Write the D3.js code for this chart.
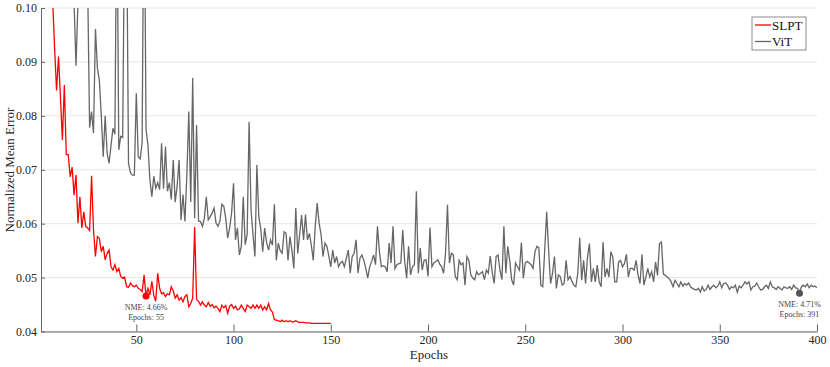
<!DOCTYPE html>
<html>
<head>
<meta charset="utf-8">
<script src="https://cdn.jsdelivr.net/npm/d3@7"></script>
<style>
body { margin: 0; background: #fff; }
text { font-family: "Liberation Serif", "Times New Roman", serif; }
</style>
</head>
<body>
<div class="chart"></div>
<script>
// NME per epoch (epoch = index + 1)
var vitNme = [
  0.180,0.175,0.170,0.165,0.160,0.155,0.150,0.145,0.140,0.135,
  0.130,0.125,0.120,0.115,0.112,0.108,0.104,0.101,0.0893,0.101,
  0.118,0.125,0.118,0.112,0.104,0.0778,0.0808,0.0768,0.0961,0.0889,
  0.0866,0.0800,0.0724,0.0800,0.0731,0.0712,0.0745,0.0777,0.0766,0.123,
  0.0737,0.0762,0.0760,0.118,0.118,0.0712,0.0694,0.0690,0.0690,0.0842,
  0.0724,0.0720,0.0750,0.130,0.0775,0.0745,0.0681,0.0650,0.0688,0.0666,
  0.0676,0.0663,0.0749,0.0665,0.0743,0.0660,0.0676,0.0645,0.0718,0.0640,
  0.0670,0.0718,0.0607,0.0654,0.0604,0.0690,0.0808,0.0640,0.0870,0.0610,
  0.0783,0.0605,0.0604,0.0595,0.0610,0.0650,0.0607,0.0613,0.0620,0.0629,
  0.0601,0.0595,0.0605,0.0636,0.0632,0.0610,0.0573,0.0592,0.0620,0.0675,
  0.0570,0.0592,0.0542,0.0558,0.0650,0.0561,0.0580,0.0789,0.0625,0.0580,
  0.0539,0.0709,0.0613,0.0590,0.0548,0.0592,0.0565,0.0551,0.0570,0.0560,
  0.0636,0.0532,0.0564,0.0550,0.0545,0.0585,0.0582,0.0532,0.0576,0.0551,
  0.0517,0.0629,0.0545,0.0580,0.0616,0.0570,0.0617,0.0570,0.0582,0.0560,
  0.0532,0.0595,0.0638,0.0601,0.0580,0.0539,0.0564,0.0558,0.0540,0.0520,
  0.0551,0.0527,0.0539,0.0520,0.0527,0.0530,0.0520,0.0536,0.0551,0.0508,
  0.0539,0.0545,0.0570,0.0508,0.0536,0.0542,0.0532,0.0517,0.0499,0.0520,
  0.0530,0.0542,0.0524,0.0595,0.0548,0.0520,0.0522,0.0520,0.0511,0.0564,
  0.0527,0.0595,0.0517,0.0524,0.0526,0.0527,0.0588,0.0530,0.0499,0.0558,
  0.0505,0.0520,0.0524,0.0660,0.0508,0.0555,0.0514,0.0532,0.0533,0.0502,
  0.0593,0.0520,0.0527,0.0530,0.0533,0.0525,0.0520,0.0508,0.0545,0.0635,
  0.0527,0.0545,0.0542,0.0502,0.0496,0.0532,0.0524,0.0527,0.0486,0.0539,
  0.0532,0.0505,0.0499,0.0496,0.0511,0.0505,0.0508,0.0511,0.0496,0.0514,
  0.0508,0.0540,0.0510,0.0489,0.0539,0.0542,0.0514,0.0496,0.0595,0.0508,
  0.0558,0.0532,0.0496,0.0486,0.0527,0.0520,0.0514,0.0565,0.0499,0.0527,
  0.0530,0.0527,0.0524,0.0517,0.0548,0.0558,0.0555,0.0486,0.0483,0.0551,
  0.0622,0.0551,0.0489,0.0508,0.0539,0.0480,0.0505,0.0502,0.0486,0.0489,
  0.0532,0.0496,0.0502,0.0493,0.0486,0.0483,0.0508,0.0574,0.0495,0.0532,
  0.0489,0.0538,0.0563,0.0492,0.0517,0.0492,0.0523,0.0492,0.0483,0.0566,
  0.0501,0.0517,0.0501,0.0548,0.0538,0.0492,0.0492,0.0529,0.0532,0.0520,
  0.0526,0.0543,0.0501,0.0517,0.0517,0.0514,0.0532,0.0504,0.0489,0.0543,
  0.0486,0.0501,0.0517,0.0501,0.0511,0.0492,0.0529,0.0504,0.0563,0.0566,
  0.0507,0.0504,0.0501,0.0498,0.0492,0.0483,0.0495,0.0489,0.0483,0.0492,
  0.0484,0.0489,0.0486,0.0490,0.0483,0.0480,0.0478,0.0477,0.0480,0.0473,
  0.0483,0.0475,0.0478,0.0486,0.0478,0.0483,0.0486,0.0481,0.0484,0.0492,
  0.0481,0.0489,0.0490,0.0486,0.0478,0.0483,0.0481,0.0486,0.0473,0.0484,
  0.0481,0.0486,0.0492,0.0488,0.0492,0.0477,0.0483,0.0484,0.0490,0.0483,
  0.0477,0.0478,0.0483,0.0486,0.0480,0.0492,0.0483,0.0481,0.0478,0.0483,
  0.0480,0.0477,0.0483,0.0481,0.0480,0.0483,0.0478,0.0486,0.0481,0.0480,
  0.0471,0.0483,0.0486,0.0483,0.0488,0.0481,0.0486,0.0483,0.0484,0.0481
];

var slptNme = [
  0.160,0.150,0.140,0.130,0.120,0.110,0.1015,0.0925,0.0847,0.0910,
  0.0835,0.0755,0.0857,0.0728,0.0728,0.0687,0.0705,0.0653,0.0690,0.0601,
  0.0650,0.0592,0.0622,0.0595,0.0592,0.0587,0.0689,0.0588,0.0539,0.0576,
  0.0573,0.0548,0.0558,0.0533,0.0545,0.0551,0.0520,0.0514,0.0524,0.0511,
  0.0517,0.0502,0.0499,0.0501,0.0483,0.0482,0.0490,0.0485,0.0483,0.0486,
  0.0480,0.0478,0.0474,0.0505,0.0466,0.0480,0.0468,0.0493,0.0467,0.0456,
  0.0508,0.0480,0.0470,0.0472,0.0465,0.0470,0.0468,0.0483,0.0475,0.0462,
  0.0468,0.0458,0.0463,0.0455,0.0465,0.0468,0.0446,0.0452,0.0462,0.0594,
  0.0459,0.0456,0.0449,0.0455,0.0449,0.0446,0.0454,0.0447,0.0450,0.0444,
  0.0447,0.0443,0.0437,0.0449,0.0444,0.0448,0.0434,0.0447,0.0450,0.0443,
  0.0447,0.0440,0.0442,0.0449,0.0443,0.0437,0.0449,0.0446,0.0443,0.0449,
  0.0443,0.0449,0.0443,0.0449,0.0440,0.0446,0.0440,0.0452,0.0440,0.0436,
  0.0422,0.0421,0.0420,0.0418,0.0421,0.0418,0.0420,0.0418,0.0420,0.0418,
  0.0418,0.0420,0.0418,0.0417,0.0417,0.0417,0.0416,0.0416,0.0416,0.0415,
  0.0415,0.0415,0.0415,0.0415,0.0415,0.0415,0.0415,0.0415,0.0415,0.0415
];

var seriesNames = ["SLPT", "ViT"];
var seriesColors = ["#ff0000", "#666666"];
var bestEpochs = [55, 391];
var bestNme = [0.0466, 0.0471];
var bestColors = ["#ff0000", "#555555"];
var yTicks = [0.04, 0.05, 0.06, 0.07, 0.08, 0.09, 0.10];
var xTicks = [50, 100, 150, 200, 250, 300, 350, 400];

var svgWidth = 830;
var svgHeight = 367;
var margin = {top: 8, right: 13, bottom: 35.5, left: 41};
var width = svgWidth - margin.left - margin.right;
var height = svgHeight - margin.top - margin.bottom;

var svg = d3.select(".chart").append("svg")
  .attr("width", svgWidth).attr("height", svgHeight);
var chart = svg.append("g").attr("transform", `translate(${margin.left}, ${margin.top})`);

var xScale = d3.scaleLinear().domain([1, 400]).range([0, width]);
var yScale = d3.scaleLinear().domain([0.04, 0.10]).range([height, 0]);

// horizontal grid
chart.append("g").selectAll("line").data(yTicks).enter().append("line")
  .attr("x1", 0).attr("x2", width)
  .attr("y1", function(d) { return yScale(d); })
  .attr("y2", function(d) { return yScale(d); })
  .attr("stroke", "#e6e6e6").attr("stroke-width", 1);

chart.append("clipPath").attr("id", "plotClip").append("rect")
  .attr("x", 0).attr("y", 0).attr("width", width).attr("height", height);

var line = d3.line()
  .x(function(d, i) { return xScale(i + 1); })
  .y(function(d) { return yScale(d); });

var lines = chart.append("g").attr("clip-path", "url(#plotClip)");
lines.append("path").datum(vitNme)
  .attr("d", line).attr("fill", "none")
  .attr("stroke", seriesColors[1]).attr("stroke-width", 1.3);
lines.append("path").datum(slptNme)
  .attr("d", line).attr("fill", "none")
  .attr("stroke", seriesColors[0]).attr("stroke-width", 1.3);

// axes (ticks pointing inward)
var xAxis = d3.axisBottom(xScale).tickValues(xTicks)
  .tickSizeInner(-7).tickSizeOuter(0).tickPadding(4);
var yAxis = d3.axisLeft(yScale).tickValues(yTicks)
  .tickFormat(d3.format(".2f"))
  .tickSizeInner(-4).tickSizeOuter(0).tickPadding(4);

var gx = chart.append("g").attr("transform", `translate(0, ${height})`).call(xAxis);
var gy = chart.append("g").call(yAxis);
[gx, gy].forEach(function(g) {
  g.select(".domain").attr("stroke", "#666");
  g.selectAll(".tick line").attr("stroke", "#666");
  g.selectAll(".tick text").attr("fill", "#262626")
    .style("font-family", '"Liberation Serif", serif').style("font-size", "12px");
});

// best-epoch markers
bestEpochs.forEach(function(ep, i) {
  var cx = xScale(ep), cy = yScale(bestNme[i]);
  chart.append("circle").attr("cx", cx).attr("cy", cy).attr("r", 3.5)
    .attr("fill", bestColors[i]);
  chart.append("text").attr("x", cx).attr("y", cy + 14)
    .attr("text-anchor", "middle").attr("font-size", "8px").attr("fill", "#444")
    .text("NME: " + (bestNme[i] * 100).toFixed(2) + "%");
  chart.append("text").attr("x", cx).attr("y", cy + 24)
    .attr("text-anchor", "middle").attr("font-size", "8px").attr("fill", "#444")
    .text("Epochs: " + ep);
});

// axis titles
svg.append("text").attr("x", 429).attr("y", 359)
  .attr("text-anchor", "middle").attr("font-size", "13px").attr("fill", "#262626")
  .text("Epochs");
svg.append("text").attr("transform", "translate(14, 170) rotate(-90)")
  .attr("text-anchor", "middle").attr("font-size", "13px").attr("fill", "#262626")
  .text("Normalized Mean Error");

// legend
var legend = svg.append("g").attr("transform", "translate(752, 17)");
legend.append("rect").attr("width", 54).attr("height", 33)
  .attr("fill", "#fff").attr("stroke", "#8c8c8c").attr("stroke-width", 1);
seriesNames.forEach(function(name, i) {
  var ly = 8 + i * 16.5;
  legend.append("line").attr("x1", 3).attr("x2", 19).attr("y1", ly).attr("y2", ly)
    .attr("stroke", seriesColors[i]).attr("stroke-width", 1.3);
  legend.append("text").attr("x", 20).attr("y", ly + 4.5)
    .attr("font-size", "13px").attr("fill", "#111").text(name);
});
</script>
</body>
</html>
